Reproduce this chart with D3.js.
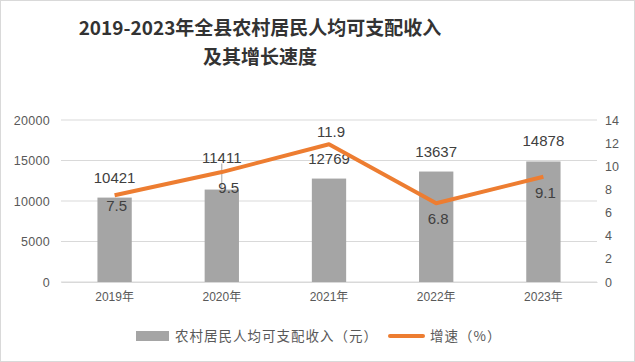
<!DOCTYPE html>
<html>
<head>
<meta charset="utf-8">
<script src="https://cdn.jsdelivr.net/npm/d3@7/dist/d3.min.js"></script>
<style>
  body { margin: 0; background: #fff; }
  text { font-family: "Liberation Sans", "Noto Sans CJK SC", sans-serif; }
</style>
</head>
<body>
<svg id="chart"></svg>
<script>
var years = ['2019年', '2020年', '2021年', '2022年', '2023年'];
var income = [10421, 11411, 12769, 13637, 14878];
var growth = [7.5, 9.5, 11.9, 6.8, 9.1];
var leftTicks = [0, 5000, 10000, 15000, 20000];
var rightTicks = [0, 2, 4, 6, 8, 10, 12, 14];
var titleLines = ['2019-2023年全县农村居民人均可支配收入', '及其增长速度'];
var legendNames = ['农村居民人均可支配收入（元）', '增速（%）'];

var width = 635;
var height = 362;
var margin = {top: 120, bottom: 80, left: 61, right: 38};
var heightInner = height - margin.top - margin.bottom;
var widthInner = width - margin.left - margin.right;

var svg = d3.select('#chart')
	.attr('width', width)
	.attr('height', height);

svg.append('rect')
	.attr('x', 0.5).attr('y', 0.5)
	.attr('width', width - 1).attr('height', height - 1)
	.attr('fill', '#fff')
	.attr('stroke', '#d9d9d9');

// title
svg.append('g').selectAll('text')
	.data(titleLines)
	.enter().append('text')
	.attr('x', 260)
	.attr('y', function(d, i) { return 35 + i * 29; })
	.attr('text-anchor', 'middle')
	.attr('font-size', 19)
	.attr('font-weight', 'bold')
	.attr('fill', '#333')
	.style('font-family', '"Noto Sans CJK SC", sans-serif')
	.text(function(d) { return d; });

var g = svg.append('g')
	.attr('transform', 'translate(' + margin.left + ',' + margin.top + ')');

var x = d3.scaleBand()
	.range([0, widthInner])
	.paddingInner(0.68)
	.paddingOuter(0.34)
	.domain(years);

var yLeft = d3.scaleLinear()
	.range([heightInner, 0])
	.domain([0, 20000]);

var yRight = d3.scaleLinear()
	.range([heightInner, 0])
	.domain([0, 14]);

// gridlines
g.append('g').selectAll('line')
	.data(leftTicks)
	.enter().append('line')
	.attr('x1', 0).attr('x2', widthInner)
	.attr('y1', function(d) { return yLeft(d); })
	.attr('y2', function(d) { return yLeft(d); })
	.attr('stroke', '#d9d9d9')
	.attr('stroke-width', 1);

var axisLeft = g.append('g')
	.attr('transform', 'translate(-8,0)')
	.call(d3.axisLeft(yLeft).tickValues(leftTicks).tickFormat(d3.format('d')).tickSize(0).tickPadding(3));
axisLeft.select('.domain').remove();
axisLeft.selectAll('text').attr('font-size', 12.5).attr('fill', '#595959')
	.style('font-family', '"Liberation Sans", sans-serif').style('letter-spacing', '0.3px');

var axisRight = g.append('g')
	.attr('transform', 'translate(' + (widthInner + 8) + ',0)')
	.call(d3.axisRight(yRight).tickValues(rightTicks).tickSize(0).tickPadding(0));
axisRight.select('.domain').remove();
axisRight.selectAll('text').attr('font-size', 12.5).attr('fill', '#595959')
	.style('font-family', '"Liberation Sans", sans-serif');

var axisBottom = g.append('g')
	.attr('transform', 'translate(0,' + heightInner + ')')
	.call(d3.axisBottom(x).tickSize(0).tickPadding(10));
axisBottom.select('.domain').attr('stroke', '#d9d9d9');
axisBottom.selectAll('text').attr('font-size', 12).attr('fill', '#595959')
	.style('font-family', '"Liberation Sans", "Noto Sans CJK SC", sans-serif');

// bars
g.selectAll('rect.bar')
	.data(income)
	.enter().append('rect')
	.attr('class', 'bar')
	.attr('x', function(d, i) { return x(years[i]); })
	.attr('y', function(d) { return yLeft(d); })
	.attr('width', x.bandwidth())
	.attr('height', function(d) { return heightInner - yLeft(d); })
	.attr('fill', '#a5a5a5');

// bar labels (2020 label is lifted over the line, with a leader)
function barLift(i) { return i === 1 ? 29 : 17; }

g.append('line')
	.attr('x1', x(years[1]) + x.bandwidth() / 2)
	.attr('x2', x(years[1]) + x.bandwidth() / 2)
	.attr('y1', yLeft(income[1]) - barLift(1) + 3)
	.attr('y2', yLeft(income[1]))
	.attr('stroke', '#a5a5a5')
	.attr('stroke-width', 1);

g.selectAll('text.barlabel')
	.data(income)
	.enter().append('text')
	.attr('class', 'barlabel')
	.attr('x', function(d, i) { return x(years[i]) + x.bandwidth() / 2; })
	.attr('y', function(d, i) { return yLeft(d) - barLift(i) + 2; })
	.attr('text-anchor', 'middle')
	.attr('font-size', 15)
	.attr('fill', '#404040')
	.text(function(d) { return d; });

// growth line
var line = d3.line()
	.x(function(d, i) { return x(years[i]) + x.bandwidth() / 2; })
	.y(function(d) { return yRight(d); });

g.append('path')
	.datum(growth)
	.attr('d', line)
	.attr('fill', 'none')
	.attr('stroke', '#ed7d31')
	.attr('stroke-width', 4)
	.attr('stroke-linejoin', 'round');

function lineOffset(i) { return i === 2 ? -10 : 18; }

g.selectAll('text.linelabel')
	.data(growth)
	.enter().append('text')
	.attr('class', 'linelabel')
	.attr('x', function(d, i) { return x(years[i]) + x.bandwidth() / 2 + (i === 1 ? 7 : 2); })
	.attr('y', function(d, i) { return yRight(d) + lineOffset(i) + (i === 0 ? -2 : 3); })
	.attr('text-anchor', 'middle')
	.attr('font-size', 15)
	.attr('fill', '#404040')
	.text(function(d) { return d; });

// legend
var legend = svg.append('g').attr('transform', 'translate(0,336)');
legend.append('rect')
	.attr('x', 136).attr('y', -5)
	.attr('width', 33).attr('height', 10)
	.attr('fill', '#a5a5a5');
legend.append('text')
	.attr('x', 175).attr('y', 5)
	.attr('font-size', 13.5)
	.attr('fill', '#595959')
	.style('letter-spacing', '1px')
	.style('font-family', '"Noto Sans CJK SC", sans-serif')
	.text(legendNames[0]);
legend.append('line')
	.attr('x1', 390).attr('x2', 423)
	.attr('y1', 0).attr('y2', 0)
	.attr('stroke', '#ed7d31')
	.attr('stroke-width', 4)
	.attr('stroke-linecap', 'round');
legend.append('text')
	.attr('x', 430).attr('y', 5)
	.attr('font-size', 13.5)
	.attr('fill', '#595959')
	.style('letter-spacing', '1px')
	.style('font-family', '"Noto Sans CJK SC", sans-serif')
	.text(legendNames[1]);
</script>
</body>
</html>
